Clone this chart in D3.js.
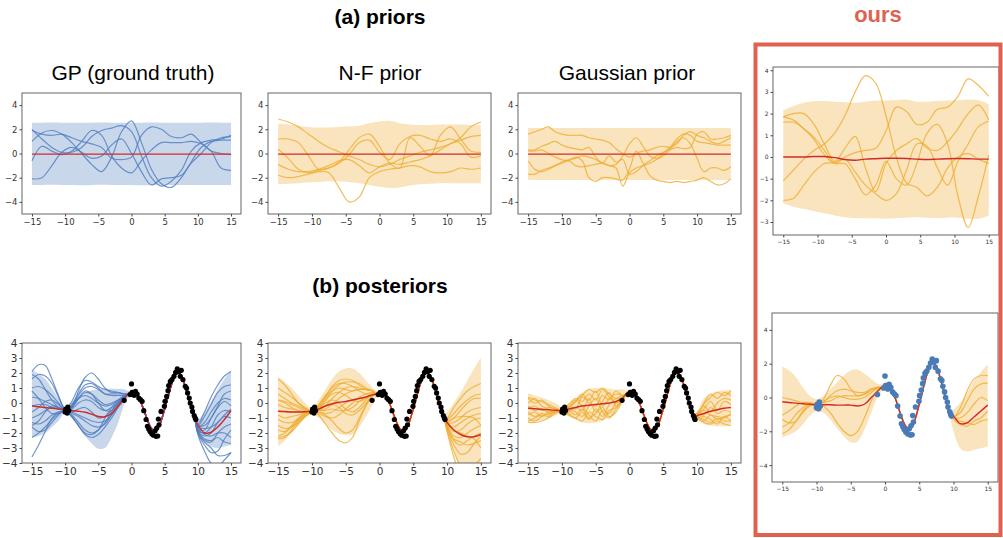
<!DOCTYPE html>
<html>
<head>
<meta charset="utf-8">
<script src="https://d3js.org/d3.v7.min.js"></script>
<style>
  body { margin: 0; background: #fff; }
  svg text { font-family: "Liberation Sans", Arial, sans-serif; }
  .tick text { font-family: "DejaVu Sans", sans-serif; fill: #333; }
</style>
</head>
<body>
<svg width="1003" height="538"></svg>
<script>
// ---- x grids ----
const priorGrid = [-15,-13.5,-12,-10.5,-9,-7.5,-6,-4.5,-3,-1.5,0,1.5,3,4.5,6,7.5,9,10.5,12,13.5,15];
const unitGrid = [-15,-14,-13,-12,-11,-10,-9,-8,-7,-6,-5,-4,-3,-2,-1,0,1,2,3,4,5,6,7,8,9,10,11,12,13,14,15];
const leftGrid = [-15,-14,-13,-12,-11,-10,-9,-8,-7,-6,-5,-4,-3,-2,-1];
const midGrid = [-0.5,0,0.5,1,1.5,2,2.5,3,3.5,4,4.5,5,5.5,6,6.5,7,7.5,8,8.5,9,9.5];
const rightGrid = [10,11,12,13,14,15];
const xTicks = [-15,-10,-5,0,5,10,15];

// ---- observed data ----
const dataX = [-10.0,-9.8,-9.6,-9.7,-9.45,-9.9,-1.1,0.0,-0.2,0.1,0.4,0.6,0.85,1.1,1.35,1.6,1.85,2.2,2.4,2.6,2.8,3.05,3.3,3.7,3.95,3.55,3.8,4.15,4.05,4.45,4.95,5.05,5.3,5.5,5.6,5.85,6.1,6.4,6.65,6.9,7.15,7.5,7.35,7.75,8.1,8.3,8.45,8.7,8.85,9.1,9.2,9.45,9.6,9.7];
const dataY = [-0.6,-0.44,-0.27,-0.67,-0.5,-0.4,0.18,1.27,0.56,0.71,0.51,0.78,0.6,0.33,0.22,0.11,-0.51,-1.1,-1.55,-1.73,-1.9,-2.05,-2.15,-2.22,-2.2,-1.85,-1.67,-1.45,-1.07,-0.56,-0.22,0.11,0.44,0.82,1.16,1.44,1.56,1.78,2.04,2.27,2.11,2.18,1.78,1.56,1.11,1.0,0.67,0.33,0.0,-0.27,-0.56,-0.84,-1.0,-1.1];

// ---- (a) GP prior ----
const gpPriorMean = [-0.05,-0.05,-0.05,-0.05,-0.05,-0.05,-0.05,-0.05,-0.05,-0.05,-0.05,-0.05,-0.05,-0.05,-0.05,-0.05,-0.05,-0.05,-0.05,-0.05,-0.05];
const gpPriorHi = [2.55,2.55,2.56,2.55,2.54,2.55,2.55,2.56,2.55,2.55,2.54,2.55,2.56,2.55,2.55,2.54,2.55,2.55,2.56,2.55,2.55];
const gpPriorLo = [-2.6,-2.6,-2.58,-2.6,-2.6,-2.62,-2.6,-2.58,-2.6,-2.6,-2.6,-2.62,-2.6,-2.58,-2.6,-2.6,-2.6,-2.6,-2.6,-2.6,-2.6];
const gpPriorSamples = [
  [2.0,1.2,0.5,0.1,0.1,0.5,1.4,1.9,2.1,2.3,1.8,-0.2,-2.0,-2.7,-2.3,-1.4,0.2,0.9,1.1,1.2,1.5],
  [1.9,1.6,1.5,1.6,1.3,1.0,0.8,0.5,-0.4,-0.5,-0.3,1.5,2.2,2.0,1.4,1.3,1.6,0.9,0.2,0.0,-0.1],
  [1.0,1.7,1.9,1.6,0.9,0.0,-0.9,-1.5,-0.3,1.8,2.7,0.9,-1.3,-2.5,-2.8,-2.0,-0.7,0.5,1.0,1.1,1.1],
  [-0.6,0.6,0.2,-0.1,0.2,1.0,1.9,1.5,-0.2,-1.2,-1.6,-0.6,0.3,0.9,0.9,0.9,1.0,0.8,0.2,-1.2,-1.4],
  [-2.1,-2.0,-1.0,0.1,0.5,0.1,-0.4,-0.2,0.7,1.2,0.0,-1.5,-2.6,-2.1,-2.0,-1.8,-0.8,0.0,0.9,1.3,1.4]
];

// ---- (a) N-F prior ----
const nfPriorMean = gpPriorMean;
const nfPriorHi = [2.45,2.4,2.3,2.2,2.15,2.15,2.2,2.25,2.3,2.5,2.65,2.7,2.5,2.4,2.35,2.35,2.4,2.4,2.4,2.35,2.35];
const nfPriorLo = [-2.55,-2.5,-2.45,-2.4,-2.35,-2.3,-2.3,-2.35,-2.45,-2.6,-2.75,-2.85,-2.8,-2.65,-2.55,-2.5,-2.45,-2.45,-2.45,-2.45,-2.45];
const nfPriorSamples = [
  [2.85,2.6,2.2,1.6,1.0,0.5,0.15,-0.2,-0.5,-0.9,-1.1,-0.9,-0.5,-0.2,0.1,0.3,0.5,0.8,1.3,2.2,2.6],
  [1.2,1.2,0.9,-0.2,-1.3,-1.2,-0.7,0.3,1.3,1.6,0.6,-0.8,-1.2,1.3,0.6,-0.2,1.5,2.2,1.2,0.2,0.1],
  [0.35,-0.4,-1.3,-1.6,-1.4,-1.2,-0.8,-0.1,0.9,1.1,0.1,-0.5,0.8,1.4,1.5,1.2,1.0,1.2,0.8,-0.3,-0.2],
  [-0.9,-1.3,-1.5,-1.5,-1.3,-1.0,-0.6,-0.5,-1.0,-1.6,-1.1,-0.8,-0.9,-0.7,-0.5,-0.2,0.3,0.8,1.1,1.4,1.5],
  [-1.8,-2.0,-1.9,-1.7,-1.5,-1.6,-2.8,-4.0,-3.6,-2.0,-1.5,-1.3,-1.2,-1.0,-1.1,-1.5,-1.6,-1.5,-1.2,-1.3,-1.2]
];

// ---- (a) Gaussian prior ----
const gaPriorMean = gpPriorMean;
const gaPriorHi = [2.1,2.1,2.1,2.1,2.1,2.1,2.1,2.1,2.1,2.1,2.1,2.1,2.1,2.1,2.1,2.1,2.1,2.1,2.1,2.1,2.1];
const gaPriorLo = [-2.2,-2.2,-2.2,-2.2,-2.2,-2.2,-2.2,-2.2,-2.2,-2.2,-2.2,-2.2,-2.2,-2.2,-2.2,-2.2,-2.2,-2.2,-2.2,-2.2,-2.2];
const gaPriorSamples = [
  [1.6,1.8,2.0,2.2,1.8,1.6,1.5,1.5,1.5,1.3,1.2,1.1,0.9,0.4,0.0,-0.3,0.0,0.2,0.3,0.5,0.6,0.5,0.8,1.5,1.8,1.5,1.3,1.0,0.8,1.0,1.3],
  [0.3,0.3,0.6,0.8,1.0,0.7,0.5,0.4,0.3,0.5,-0.3,-0.8,-0.2,-0.7,-0.5,-1.7,-1.5,-1.0,-0.6,-0.2,0.1,0.5,1.2,1.6,1.5,1.0,0.9,0.8,0.7,0.7,0.7],
  [-0.6,-1.3,-1.5,-1.3,-1.0,-0.7,-0.5,-0.4,-0.2,-0.3,-0.5,-0.8,-1.0,-0.9,-0.2,0.8,1.3,0.6,-0.2,-0.4,-0.2,0.3,0.5,0.4,0.5,1.6,1.8,1.2,1.2,1.3,1.5],
  [-1.7,-1.7,-1.4,-1.2,-1.0,-0.8,-0.6,-1.0,-1.1,-1.0,-0.9,-0.8,-1.0,-1.2,-2.7,-1.6,-1.2,-1.0,-0.8,-0.5,0.0,0.4,1.0,1.3,0.8,-0.4,-1.5,-1.2,-1.2,-1.4,-1.1],
  [0.2,0.2,0.3,0.0,-0.3,-0.5,-0.6,-0.3,-0.6,-2.0,-2.3,-2.0,-2.0,-2.1,-2.2,-1.3,0.2,-0.8,-1.8,-2.2,-2.3,-2.4,-2.3,-2.4,-2.3,-2.2,-2.0,-2.3,-2.6,-2.5,-2.1]
];

// ---- ours prior ----
const ourPriorMean = [0.0,0.0,0.0,0.02,0.02,-0.03,-0.12,-0.15,-0.1,-0.08,-0.06,-0.06,-0.07,-0.1,-0.12,-0.1,-0.08,-0.07,-0.08,-0.1,-0.1];
const ourPriorHi = [2.15,2.35,2.5,2.57,2.58,2.55,2.52,2.5,2.55,2.6,2.6,2.63,2.65,2.55,2.55,2.58,2.6,2.62,2.65,2.62,2.45];
const ourPriorLo = [-2.15,-2.3,-2.4,-2.5,-2.6,-2.7,-2.78,-2.82,-2.83,-2.83,-2.85,-2.83,-2.8,-2.78,-2.8,-2.82,-2.8,-2.8,-2.85,-2.85,-2.7];
const ourPriorSamples = [
  [-1.1,-0.6,-0.1,0.3,0.6,1.1,1.9,3.0,3.75,3.4,1.9,0.0,-1.2,-1.4,-1.8,-1.4,-0.5,0.0,0.15,-0.1,-0.3],
  [1.85,2.0,2.0,1.5,0.6,-0.2,0.4,0.95,-0.5,-1.6,-0.3,0.3,0.6,0.85,0.4,0.3,0.7,1.3,2.0,2.4,1.7],
  [1.85,1.7,1.3,0.9,0.3,-0.3,-0.3,-1.0,-1.75,-1.3,-0.2,-1.0,-1.3,-0.3,1.1,1.5,0.6,-1.8,-3.25,-1.8,0.1],
  [1.6,1.6,1.3,0.8,0.1,-0.3,-0.1,-0.7,-1.3,-1.7,-2.0,-1.7,-0.6,0.6,0.5,-0.5,-1.3,-0.2,0.6,1.4,1.65],
  [-2.0,-1.9,-1.3,-0.7,-0.3,-0.25,0.0,0.2,0.3,0.4,1.2,2.3,2.1,1.5,1.6,2.2,2.3,2.8,3.6,3.3,2.8]
];

// ---- posteriors: shared fit through the data region (midGrid) ----
const fitMid   = [0.6,0.75,0.7,0.4,-0.05,-0.65,-1.25,-1.7,-1.9,-1.7,-1.15,-0.4,0.4,1.2,1.8,2.05,1.85,1.25,0.5,-0.3,-0.95];
const fitMidHi = [0.8,0.9,0.85,0.55,0.1,-0.5,-1.1,-1.55,-1.75,-1.55,-1.0,-0.25,0.55,1.35,1.95,2.2,2.0,1.4,0.65,-0.15,-0.75];
const fitMidLo = [0.35,0.6,0.55,0.25,-0.2,-0.8,-1.4,-1.85,-2.05,-1.85,-1.3,-0.55,0.25,1.05,1.65,1.9,1.7,1.1,0.35,-0.45,-1.15];

// (b) GP posterior
const gpPostMeanL = [-0.18,-0.25,-0.3,-0.35,-0.4,-0.45,-0.5,-0.55,-0.62,-0.75,-0.9,-0.92,-0.7,-0.2,0.35];
const gpPostMeanR = [-1.45,-2.0,-1.95,-1.6,-1.1,-0.5];
const gpPostHiL = [2.2,1.95,1.6,1.0,0.3,-0.25,0.05,0.45,0.7,0.85,0.9,0.95,0.95,0.95,0.9];
const gpPostLoL = [-2.3,-2.2,-2.0,-1.6,-1.2,-0.65,-1.0,-1.6,-2.2,-2.7,-3.05,-3.0,-2.3,-1.3,0.0];
const gpPostHiR = [-1.1,-0.6,0.1,0.9,1.6,2.15];
const gpPostLoR = [-1.7,-2.5,-2.9,-3.0,-2.9,-2.8];
const gpPostSamplesL = [
  [2.1,2.55,2.5,1.6,0.5,-0.4,-0.3,0.8,1.7,2.0,1.6,1.0,0.7,0.7,0.6],
  [1.6,1.9,1.8,1.3,0.4,-0.4,0.1,1.0,1.5,1.4,1.1,0.9,0.8,0.7,0.6],
  [1.0,1.1,0.9,0.5,0.0,-0.45,-0.2,0.5,1.0,1.1,0.9,0.6,0.5,0.5,0.5],
  [0.4,0.3,0.1,-0.1,-0.3,-0.5,-0.3,0.3,0.7,0.6,0.2,-0.1,0.0,0.2,0.4],
  [-0.2,-0.1,-0.1,-0.3,-0.4,-0.5,-0.4,0.0,0.2,0.1,-0.3,-0.5,-0.3,0.0,0.3],
  [-0.6,-0.3,0.1,0.2,-0.1,-0.5,-0.6,-0.4,-0.3,-0.6,-1.0,-0.9,-0.5,0.0,0.4],
  [-1.0,-0.8,-0.5,-0.3,-0.3,-0.5,-0.7,-0.9,-1.2,-1.5,-1.6,-1.4,-0.8,-0.1,0.4],
  [-1.3,-1.4,-1.2,-0.8,-0.6,-0.55,-0.8,-1.3,-1.8,-2.0,-1.8,-1.3,-0.6,0.1,0.5],
  [-1.6,-1.9,-1.8,-1.3,-0.8,-0.5,-0.9,-1.5,-2.0,-2.1,-1.8,-1.0,-0.3,0.2,0.5],
  [-2.3,-2.0,-1.6,-1.1,-0.7,-0.55,-0.6,-0.8,-1.0,-1.2,-1.3,-1.2,-0.8,-0.2,0.4],
  [-3.6,-2.8,-1.9,-1.0,-0.6,-0.5,-0.3,0.3,0.8,0.6,0.0,-0.5,-0.5,0.0,0.5],
  [0.8,0.3,-0.3,-0.7,-0.7,-0.5,-0.2,0.3,0.5,0.3,0.0,-0.2,-0.1,0.2,0.5],
  [1.9,1.6,0.9,0.2,-0.3,-0.5,-0.1,0.6,1.2,1.3,1.0,0.6,0.6,0.6,0.6],
  [-1.5,-1.2,-0.6,-0.2,-0.3,-0.5,-0.9,-1.5,-2.1,-2.3,-2.1,-1.6,-1.0,-0.3,0.3]
];
const gpPostSamplesR = [
  [-1.4,-0.6,0.4,1.2,1.8,2.1],
  [-1.5,-0.9,-0.1,0.7,1.1,1.2],
  [-1.6,-1.3,-0.6,0.0,0.3,0.2],
  [-1.7,-1.8,-1.0,-0.3,0.1,-0.2],
  [-1.8,-2.0,-1.6,-0.8,-0.5,-0.6],
  [-1.9,-2.2,-2.0,-1.3,-0.9,-1.0],
  [-1.9,-2.5,-2.6,-2.0,-1.6,-1.4],
  [-2.0,-2.8,-3.3,-3.2,-2.4,-1.8],
  [-2.1,-3.2,-4.0,-4.2,-3.8,-3.3],
  [-1.5,-1.5,-1.0,-0.2,0.6,0.8],
  [-1.7,-2.1,-2.2,-2.0,-2.0,-2.3],
  [-1.8,-2.4,-2.5,-2.3,-2.6,-2.7],
  [-1.6,-1.7,-1.6,-1.3,-0.8,-0.4],
  [-2.0,-2.6,-3.0,-3.5,-3.5,-3.3]
];

// (b) N-F posterior
const nfPostMeanL = [-0.55,-0.57,-0.6,-0.6,-0.58,-0.55,-0.4,-0.2,-0.05,0.05,0.1,0.2,0.3,0.4,0.55];
const nfPostMeanR = [-1.3,-1.8,-2.1,-2.25,-2.25,-2.1];
const nfPostHiL = [1.75,1.4,1.0,0.5,0.0,-0.35,0.2,0.9,1.6,2.1,2.3,2.3,2.0,1.5,1.0];
const nfPostLoL = [-2.9,-2.5,-2.0,-1.5,-1.0,-0.75,-1.0,-1.4,-1.8,-2.05,-2.15,-2.1,-1.6,-0.9,-0.1];
const nfPostHiR = [-0.6,0.0,0.7,1.5,2.3,3.0];
const nfPostLoR = [-1.6,-3.0,-4.5,-5.5,-6.0,-6.0];
const nfPostSamplesL = [
  [1.6,1.2,0.6,0.0,-0.4,-0.55,-0.4,0.2,0.8,1.2,1.4,1.4,1.3,1.0,0.8],
  [1.0,0.7,0.4,0.0,-0.3,-0.55,-0.5,-0.2,0.3,0.7,1.0,1.1,1.0,0.9,0.8],
  [0.6,0.3,0.0,-0.2,-0.4,-0.55,-0.5,-0.4,-0.1,0.3,0.6,0.8,0.9,0.9,0.8],
  [0.2,0.1,-0.1,-0.3,-0.5,-0.55,-0.7,-0.9,-1.0,-0.8,-0.4,0.0,0.4,0.6,0.7],
  [-0.1,-0.3,-0.4,-0.5,-0.55,-0.55,-0.8,-1.4,-2.0,-2.5,-2.65,-2.3,-1.2,-0.2,0.5],
  [-0.5,-0.6,-0.6,-0.6,-0.6,-0.55,-0.6,-0.8,-1.2,-1.7,-2.0,-1.8,-1.0,-0.1,0.5],
  [-0.8,-1.0,-0.9,-0.8,-0.65,-0.55,-0.4,-0.2,-0.1,-0.3,-0.7,-0.8,-0.5,0.0,0.5],
  [-1.1,-1.3,-1.3,-1.1,-0.8,-0.55,-0.3,0.2,0.6,0.7,0.5,0.2,0.1,0.3,0.6],
  [-1.5,-1.7,-1.6,-1.3,-0.9,-0.55,-0.3,0.0,0.2,0.0,-0.4,-0.6,-0.3,0.2,0.6],
  [-1.8,-1.9,-1.6,-1.1,-0.7,-0.55,-0.2,0.4,0.8,1.0,0.9,0.8,0.9,0.9,0.8],
  [-2.2,-2.0,-1.5,-1.0,-0.7,-0.55,-0.6,-0.7,-0.6,-0.3,0.0,0.2,0.3,0.4,0.6],
  [-2.3,-2.2,-1.9,-1.4,-0.9,-0.55,-0.1,0.5,1.0,1.3,1.3,1.1,0.8,0.6,0.6],
  [-2.4,-2.3,-1.8,-1.2,-0.8,-0.55,-0.5,-0.5,-0.4,-0.5,-0.5,-0.3,0.1,0.4,0.6],
  [0.2,0.0,-0.3,-0.5,-0.6,-0.55,-0.2,0.4,1.1,1.5,1.6,1.5,1.2,0.9,0.8]
];
const nfPostSamplesR = [
  [-1.0,-0.3,0.3,0.8,1.1,1.3],
  [-1.1,-0.7,-0.2,0.2,0.5,0.6],
  [-1.2,-1.0,-0.5,0.0,0.3,0.3],
  [-1.3,-1.3,-1.0,-0.6,-0.4,-0.3],
  [-1.4,-1.6,-1.3,-1.0,-0.8,-0.7],
  [-1.5,-1.9,-1.8,-1.4,-1.1,-1.0],
  [-1.5,-2.2,-2.3,-2.0,-1.7,-1.5],
  [-1.6,-2.5,-2.8,-2.5,-2.2,-2.0],
  [-1.7,-2.8,-3.4,-3.3,-2.7,-2.2],
  [-1.8,-3.2,-4.2,-4.5,-4.2,-3.7],
  [-1.9,-3.6,-4.8,-5.0,-5.0,-4.8],
  [-1.6,-2.4,-2.6,-2.8,-2.7,-2.5],
  [-1.4,-1.8,-2.0,-2.2,-2.4,-3.0],
  [-1.3,-1.0,-0.9,-0.9,-1.0,-1.5]
];

// (b) Gaussian posterior
const gaPostMeanL = [-0.35,-0.38,-0.42,-0.45,-0.48,-0.5,-0.4,-0.3,-0.2,-0.15,-0.1,-0.05,0.0,0.1,0.35];
const gaPostMeanR = [-0.85,-0.7,-0.55,-0.45,-0.35,-0.3];
const gaPostHiL = [0.65,0.5,0.35,0.2,0.0,-0.25,0.0,0.3,0.7,0.95,1.0,1.0,0.95,0.9,0.9];
const gaPostLoL = [-1.3,-1.25,-1.15,-1.0,-0.85,-0.7,-0.9,-1.1,-1.3,-1.35,-1.3,-1.2,-0.9,-0.5,0.0];
const gaPostHiR = [-0.55,0.3,0.6,0.8,0.85,0.9];
const gaPostLoR = [-1.15,-1.4,-1.5,-1.55,-1.55,-1.55];
const gaPostSamplesL = [
  [0.4,0.2,0.1,-0.1,-0.3,-0.5,-0.3,0.1,0.5,0.9,0.7,1.0,0.6,0.3,0.4],
  [0.0,0.3,-0.2,-0.4,-0.6,-0.5,-0.1,0.3,0.1,0.6,0.2,0.9,0.4,0.0,0.3],
  [-0.4,-0.2,-0.5,-0.3,-0.4,-0.5,-0.6,-0.3,-0.5,0.3,-0.6,0.1,0.7,-0.2,0.4],
  [-0.8,-0.6,-0.9,-0.6,-0.5,-0.5,-0.7,-1.0,-0.6,-1.1,-0.4,-0.9,-0.1,0.3,0.5],
  [-1.2,-1.0,-0.8,-0.9,-0.6,-0.5,-0.3,0.2,-0.2,-0.8,-1.2,-0.5,-0.7,0.0,0.4],
  [-1.3,-1.3,-1.2,-1.0,-0.7,-0.5,-0.8,-1.0,-1.2,-0.6,-0.9,-1.1,-0.5,-0.3,0.3],
  [0.3,0.0,0.2,-0.2,-0.4,-0.5,-0.2,-0.4,0.4,0.2,0.8,-0.2,0.3,0.6,0.5],
  [-0.6,-0.9,-0.7,-0.8,-0.5,-0.5,-0.4,-0.6,-0.9,-0.2,0.3,-0.6,-1.0,-0.4,0.2],
  [-0.2,-0.5,-0.4,-0.6,-0.5,-0.5,-0.3,0.1,0.6,0.0,-0.2,0.5,0.2,0.8,0.5],
  [-1.0,-1.2,-0.9,-0.7,-0.6,-0.5,-0.5,-0.8,-0.4,-1.0,-0.7,-0.3,-0.9,-0.6,0.2]
];
const gaPostSamplesR = [
  [-0.8,-0.1,0.4,0.7,0.5,0.8],
  [-0.9,0.0,0.6,0.3,0.7,0.5],
  [-0.9,-0.4,0.1,-0.5,0.1,-0.1],
  [-0.7,-0.8,-0.3,-0.7,-0.5,-0.6],
  [-0.9,-1.2,-0.8,-1.1,-0.9,-0.8],
  [-1.0,-1.3,-1.4,-1.2,-1.4,-1.5],
  [-0.8,-0.5,-0.8,-0.9,-1.0,-0.7],
  [-0.9,-1.1,-1.3,-1.0,-1.2,-1.2],
  [-0.7,-0.2,-0.6,0.0,0.3,0.2],
  [-1.0,-0.9,-1.1,-1.4,-0.9,-1.2]
];

// ours posterior
const ourPostMeanL = [-0.25,-0.3,-0.33,-0.37,-0.4,-0.43,-0.43,-0.43,-0.45,-0.45,-0.45,-0.5,-0.4,0.0,0.4];
const ourPostMeanR = [-1.1,-1.55,-1.5,-1.15,-0.8,-0.45];
const ourPostHiL = [1.85,1.6,1.2,0.6,0.1,-0.1,0.1,0.5,0.9,1.3,1.6,1.65,1.4,1.1,0.8];
const ourPostLoL = [-2.35,-2.2,-2.0,-1.6,-1.1,-0.8,-0.9,-1.3,-1.8,-2.3,-2.65,-2.6,-1.9,-0.9,0.1];
const ourPostHiR = [-0.7,-0.3,0.3,1.0,1.5,1.95];
const ourPostLoR = [-2.0,-3.0,-3.2,-3.1,-3.0,-2.9];
const ourPostSamplesL = [
  [0.0,-0.1,-0.2,-0.3,-0.35,-0.4,-0.1,0.7,1.3,1.1,0.5,0.1,0.2,0.5,0.6],
  [-1.05,-0.8,-0.5,-0.3,-0.3,-0.4,-0.3,0.1,0.4,0.5,0.4,0.3,0.3,0.5,0.6],
  [-1.75,-1.5,-1.0,-0.6,-0.4,-0.4,-0.3,-0.2,0.0,0.1,0.1,0.1,0.2,0.4,0.6],
  [-2.15,-1.9,-1.4,-0.8,-0.45,-0.4,-0.5,-0.9,-1.5,-2.0,-2.25,-2.0,-1.2,-0.2,0.5],
  [-1.3,-1.5,-1.4,-0.9,-0.5,-0.4,-0.2,0.0,0.1,0.0,-0.1,-0.1,0.0,0.3,0.6]
];
const ourPostSamplesR = [
  [-1.2,-0.6,0.4,1.1,1.3,1.3],
  [-1.1,-0.9,-0.2,0.5,0.8,0.85],
  [-1.2,-1.2,-0.9,-0.4,0.0,-0.2],
  [-1.3,-1.6,-1.7,-1.4,-1.2,-0.8],
  [-1.2,-1.4,-1.5,-1.6,-1.4,-1.3]
];

// ---- colours ----
const BLUE = "#4f7dbf", BLUE_BAND = "#c9d7eb";
const ORANGE = "#efac2e", ORANGE_BAND = "#fae4be";
const RED = "#d12a2a";
const OURS = "#e0614f";

const svg = d3.select("svg");
svg.append("rect").attr("width", 1003).attr("height", 538).attr("fill", "#fff");

// join left part + data-region fit + right part into one curve
function postCurve(left, mid, right) {
  const xs = leftGrid.concat(midGrid, rightGrid);
  const ys = left.concat(mid, right);
  return xs.map((x, i) => [x, ys[i]]);
}
function gridCurve(grid, ys) { return grid.map((x, i) => [x, ys[i]]); }

let clipId = 0;
function drawPanel(p) {
  const x = d3.scaleLinear().domain([-16.5, 16.5]).range([p.x0, p.x1]);
  const y = d3.scaleLinear().domain(p.yDom).range([p.y1, p.y0]);
  const id = "clip" + (clipId++);
  svg.append("clipPath").attr("id", id)
    .append("rect").attr("x", p.x0).attr("y", p.y0)
    .attr("width", p.x1 - p.x0).attr("height", p.y1 - p.y0);
  const g = svg.append("g").attr("clip-path", `url(#${id})`);

  // uncertainty band
  const area = d3.area()
    .x(d => x(d[0])).y0(d => y(d[1])).y1(d => y(d[2]))
    .curve(d3.curveCatmullRom);
  g.append("path").datum(p.band)
    .attr("d", area).attr("fill", p.bandColor).attr("stroke", "none");

  const line = d3.line().x(d => x(d[0])).y(d => y(d[1])).curve(d3.curveCatmullRom);
  // samples
  g.selectAll(null).data(p.samples).enter().append("path")
    .attr("d", line).attr("fill", "none")
    .attr("stroke", p.lineColor).attr("stroke-width", 1.2)
    .attr("stroke-opacity", 0.8);
  // mean
  g.append("path").datum(p.mean).attr("d", line)
    .attr("fill", "none").attr("stroke", RED).attr("stroke-width", 1.4);
  // observations
  if (p.points) {
    g.selectAll(null).data(dataX).enter().append("circle")
      .attr("cx", d => x(d)).attr("cy", (d, i) => y(dataY[i]))
      .attr("r", p.pointR).attr("fill", p.pointColor);
  }

  // axes
  const ax = svg.append("g").attr("transform", `translate(0,${p.y1})`)
    .call(d3.axisBottom(x).tickValues(xTicks).tickSize(2.5).tickPadding(2));
  const ay = svg.append("g").attr("transform", `translate(${p.x0},0)`)
    .call(d3.axisLeft(y).tickValues(p.yTicks).tickSize(2.5).tickPadding(2).tickFormat(d3.format("d")));
  [ax, ay].forEach(a => {
    a.select(".domain").remove();
    a.selectAll(".tick line").attr("stroke", "#444");
    a.selectAll(".tick text").style("font-size", p.font + "px");
  });
  svg.append("rect").attr("x", p.x0).attr("y", p.y0)
    .attr("width", p.x1 - p.x0).attr("height", p.y1 - p.y0)
    .attr("fill", "none").attr("stroke", "#555").attr("stroke-width", 0.9);
}

function priorBand(grid, lo, hi) { return grid.map((x, i) => [x, lo[i], hi[i]]); }
function postBand(loL, hiL, loR, hiR) {
  const xs = leftGrid.concat(midGrid, rightGrid);
  const lo = loL.concat(fitMidLo, loR), hi = hiL.concat(fitMidHi, hiR);
  return xs.map((x, i) => [x, lo[i], hi[i]]);
}

const topRow = { y0: 93, y1: 214, yDom: [-5, 5], yTicks: [-4, -2, 0, 2, 4], font: 8.5 };
const botRow = { y0: 343, y1: 463, yDom: [-4, 4], yTicks: [-4, -3, -2, -1, 0, 1, 2, 3, 4], font: 10.5 };
const cols = [[22, 241], [268, 491], [518, 741]];

// (a) priors
drawPanel(Object.assign({}, topRow, { x0: cols[0][0], x1: cols[0][1],
  band: priorBand(priorGrid, gpPriorLo, gpPriorHi), bandColor: BLUE_BAND, lineColor: BLUE,
  samples: gpPriorSamples.map(s => gridCurve(priorGrid, s)), mean: gridCurve(priorGrid, gpPriorMean) }));
drawPanel(Object.assign({}, topRow, { x0: cols[1][0], x1: cols[1][1],
  band: priorBand(priorGrid, nfPriorLo, nfPriorHi), bandColor: ORANGE_BAND, lineColor: ORANGE,
  samples: nfPriorSamples.map(s => gridCurve(priorGrid, s)), mean: gridCurve(priorGrid, nfPriorMean) }));
drawPanel(Object.assign({}, topRow, { x0: cols[2][0], x1: cols[2][1],
  band: priorBand(priorGrid, gaPriorLo, gaPriorHi), bandColor: ORANGE_BAND, lineColor: ORANGE,
  samples: gaPriorSamples.map(s => gridCurve(unitGrid, s)), mean: gridCurve(priorGrid, gaPriorMean) }));
// ours prior
drawPanel({ x0: 773, x1: 999, y0: 67, y1: 235, yDom: [-3.6, 4.15], yTicks: [-3, -2, -1, 0, 1, 2, 3, 4], font: 6,
  band: priorBand(priorGrid, ourPriorLo, ourPriorHi), bandColor: ORANGE_BAND, lineColor: ORANGE,
  samples: ourPriorSamples.map(s => gridCurve(priorGrid, s)), mean: gridCurve(priorGrid, ourPriorMean) });

// (b) posteriors
drawPanel(Object.assign({}, botRow, { x0: cols[0][0], x1: cols[0][1],
  band: postBand(gpPostLoL, gpPostHiL, gpPostLoR, gpPostHiR), bandColor: BLUE_BAND, lineColor: BLUE,
  samples: gpPostSamplesL.map((s, i) => postCurve(s, fitMid, gpPostSamplesR[i])),
  mean: postCurve(gpPostMeanL, fitMid, gpPostMeanR), points: true, pointR: 2.6, pointColor: "#000" }));
drawPanel(Object.assign({}, botRow, { x0: cols[1][0], x1: cols[1][1],
  band: postBand(nfPostLoL, nfPostHiL, nfPostLoR, nfPostHiR), bandColor: ORANGE_BAND, lineColor: ORANGE,
  samples: nfPostSamplesL.map((s, i) => postCurve(s, fitMid, nfPostSamplesR[i])),
  mean: postCurve(nfPostMeanL, fitMid, nfPostMeanR), points: true, pointR: 2.6, pointColor: "#000" }));
drawPanel(Object.assign({}, botRow, { x0: cols[2][0], x1: cols[2][1],
  band: postBand(gaPostLoL, gaPostHiL, gaPostLoR, gaPostHiR), bandColor: ORANGE_BAND, lineColor: ORANGE,
  samples: gaPostSamplesL.map((s, i) => postCurve(s, fitMid, gaPostSamplesR[i])),
  mean: postCurve(gaPostMeanL, fitMid, gaPostMeanR), points: true, pointR: 2.6, pointColor: "#000" }));
// ours posterior
drawPanel({ x0: 772, x1: 998, y0: 313, y1: 482, yDom: [-5, 5], yTicks: [-4, -2, 0, 2, 4], font: 6,
  band: postBand(ourPostLoL, ourPostHiL, ourPostLoR, ourPostHiR), bandColor: ORANGE_BAND, lineColor: ORANGE,
  samples: ourPostSamplesL.map((s, i) => postCurve(s, fitMid, ourPostSamplesR[i])),
  mean: postCurve(ourPostMeanL, fitMid, ourPostMeanR), points: true, pointR: 2.8, pointColor: "#4a7bb8" });

// titles
const title = (t, x, y, size, weight, fill) => svg.append("text")
  .attr("x", x).attr("y", y).attr("text-anchor", "middle")
  .style("font-size", size + "px").style("font-weight", weight).attr("fill", fill || "#000").text(t);
title("(a) priors", 380, 24, 21, "bold");
title("(b) posteriors", 380, 293, 21, "bold");
title("ours", 878, 22, 22, "bold", OURS);
title("GP (ground truth)", 133, 80, 21, "normal");
title("N-F prior", 380, 80, 21, "normal");
title("Gaussian prior", 627, 80, 21, "normal");

// highlight box around our model
svg.append("rect").attr("x", 755.5).attr("y", 44.5).attr("width", 245).attr("height", 490.5)
  .attr("fill", "none").attr("stroke", OURS).attr("stroke-width", 4);
</script>
</body>
</html>
